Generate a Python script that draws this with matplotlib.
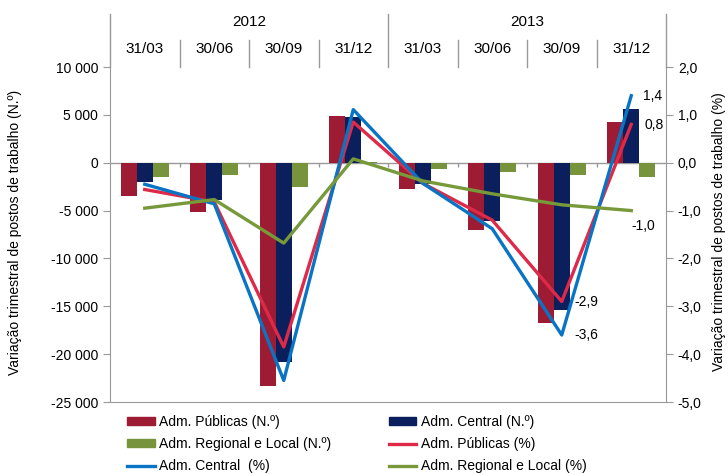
import matplotlib
matplotlib.use("Agg")
import matplotlib.pyplot as plt
import matplotlib.transforms as mtransforms
from matplotlib.patches import Patch
from matplotlib.lines import Line2D
import numpy as np

plt.rcParams['font.family'] = ['Liberation Sans', 'DejaVu Sans']
plt.rcParams['font.size'] = 10

years = ['2012', '2013']
quarters = ['31/03', '30/06', '30/09', '31/12', '31/03', '30/06', '30/09', '31/12']

# quarterly change in number of jobs
publicas_n = [-3500, -5100, -23300, 4900, -2700, -7000, -16700, 4300]
central_n = [-2050, -3900, -20800, 4750, -2200, -6050, -15400, 5650]
regional_n = [-1450, -1250, -2550, 100, -650, -950, -1250, -1450]

# quarterly change (%)
publicas_pct = [-0.56, -0.82, -3.85, 0.85, -0.43, -1.2, -2.9, 0.8]
central_pct = [-0.45, -0.86, -4.55, 1.11, -0.43, -1.38, -3.6, 1.4]
regional_pct = [-0.95, -0.77, -1.68, 0.08, -0.38, -0.65, -0.88, -1.0]

c_pub_bar = '#9E1B34'
c_cen_bar = '#0A1F5C'
c_reg_bar = '#77933C'
c_pub_line = '#DE2A48'
c_cen_line = '#0A74C4'
c_reg_line = '#77993A'
grey = '#999999'

fig = plt.figure(figsize=(7.28, 4.75), dpi=100)
ax = fig.add_axes([110 / 728, 1 - 402 / 475, 556 / 728, 335 / 475])
ax2 = ax.twinx()

x = np.arange(len(quarters))
w = 0.23
ax.bar(x - w, publicas_n, w, color=c_pub_bar, zorder=2)
ax.bar(x, central_n, w, color=c_cen_bar, zorder=2)
ax.bar(x + w, regional_n, w, color=c_reg_bar, zorder=2)

ax.set_xlim(-0.5, len(quarters) - 0.5)
ax.set_ylim(-25000, 10000)
ax.set_yticks(np.arange(-25000, 10001, 5000))
ax.set_yticklabels([f"{v:,}".replace(",", " ") for v in range(-25000, 10001, 5000)])
ax.set_xticks([])

# zero line with category tick marks
ax.axhline(0, color=grey, lw=1, zorder=1)
ax.vlines(x[:-1] + 0.5, -430, 0, color=grey, lw=1, zorder=1)

ax2.plot(x, publicas_pct, color=c_pub_line, lw=2.4, zorder=3)
ax2.plot(x, central_pct, color=c_cen_line, lw=2.4, zorder=3)
ax2.plot(x, regional_pct, color=c_reg_line, lw=2.4, zorder=3)
ax2.set_ylim(-5, 2)
ax2.set_yticks(np.arange(-5, 2.01, 1))
ax2.set_yticklabels([f"{v:.1f}".replace(".", ",") for v in np.arange(-5, 2.01, 1)])

for a in (ax, ax2):
    a.spines['top'].set_visible(False)
    for s in a.spines.values():
        s.set_color(grey)
    a.tick_params(axis='y', colors=grey, labelcolor='black', length=5, labelsize=10)
ax.spines['right'].set_visible(False)
ax2.spines['left'].set_visible(False)
ax2.spines['bottom'].set_visible(False)

# data labels
lab = dict(textcoords='offset pixels', fontsize=10, va='center', ha='left')
ax2.annotate('1,4', (7, central_pct[7]), xytext=(12, 0), **lab)
ax2.annotate('0,8', (7, publicas_pct[7]), xytext=(13, -1), **lab)
ax2.annotate('-2,9', (6, publicas_pct[6]), xytext=(13, 0), **lab)
ax2.annotate('-3,6', (6, central_pct[6]), xytext=(13, 0), **lab)
ax2.annotate('-1,0', (7, regional_pct[7]), xytext=(0, -15), **lab)

# two-level category header above the plot
tr = mtransforms.blended_transform_factory(ax.transData, ax.transAxes)
for b in [-0.5, 3.5, 7.5]:
    ax.plot([b, b], [1.0, 1.158], color=grey, lw=1, transform=tr, clip_on=False)
for b in [0.5, 1.5, 2.5, 4.5, 5.5, 6.5]:
    ax.plot([b, b], [1.0, 1.08], color=grey, lw=1, transform=tr, clip_on=False)
for i, yr in enumerate(years):
    ax.text(1.5 + 4 * i, 1.135, yr, transform=tr, ha='center', va='center', fontsize=11)
for i, q in enumerate(quarters):
    ax.text(i, 1.053, q, transform=tr, ha='center', va='center', fontsize=11)

fig.text(15 / 728, 1 - 232 / 475, 'Variação trimestral de postos de trabalho (N.º)',
         rotation=90, ha='center', va='center', fontsize=10)
fig.text(719 / 728, 1 - 232 / 475, 'Variação trimestral de postos de trabalho (%)',
         rotation=90, ha='center', va='center', fontsize=10)

handles = [
    Patch(color=c_pub_bar), Patch(color=c_reg_bar), Line2D([], [], color=c_cen_line, lw=2.4),
    Patch(color=c_cen_bar), Line2D([], [], color=c_pub_line, lw=2.4), Line2D([], [], color=c_reg_line, lw=2.4),
]
labels = [
    'Adm. Públicas (N.º)', 'Adm. Regional e Local (N.º)', 'Adm. Central  (%)',
    'Adm. Central (N.º)', 'Adm. Públicas (%)', 'Adm. Regional e Local (%)',
]
fig.legend(handles, labels, ncol=2, loc='upper left', bbox_to_anchor=(127 / 728, 1 - 415 / 475),
           frameon=False, fontsize=10, handlelength=2.0, handleheight=0.5, handletextpad=0.3,
           labelspacing=0.58, columnspacing=4.15, borderpad=0, borderaxespad=0)

fig.savefig('out.png', dpi=100)
